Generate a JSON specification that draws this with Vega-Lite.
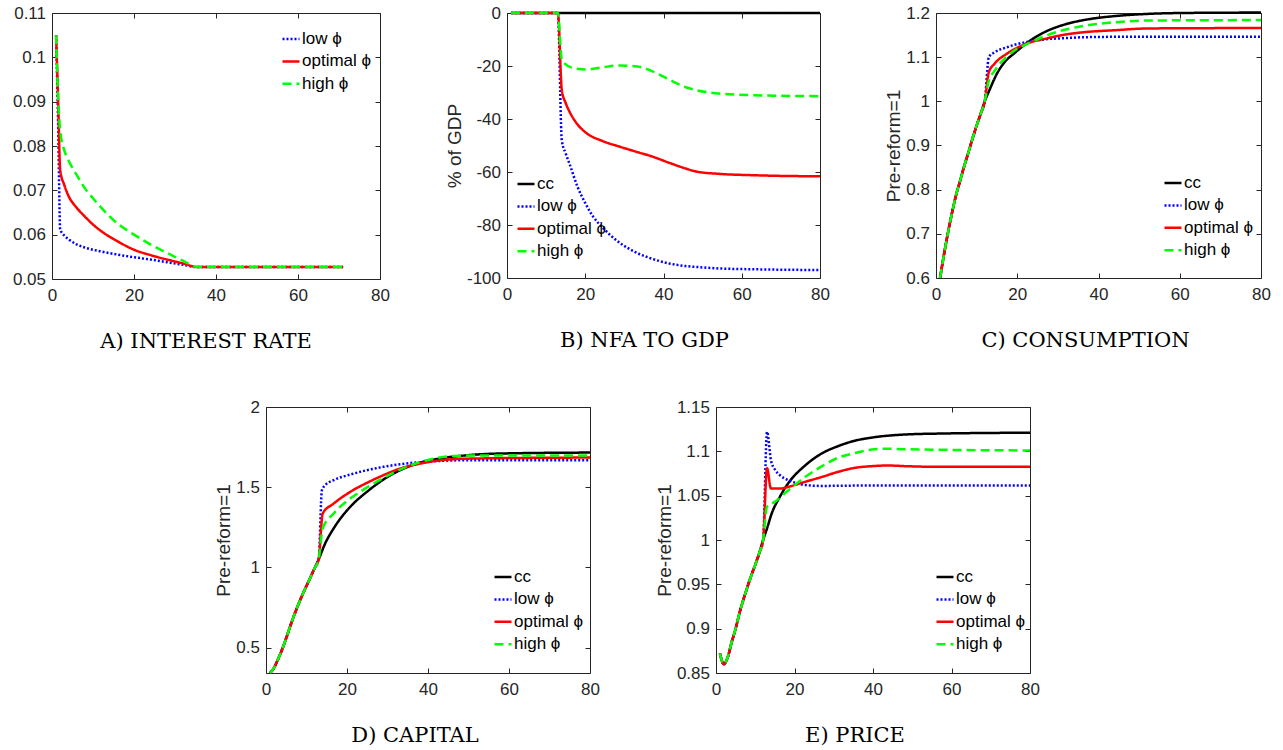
{
  "$schema": "https://vega.github.io/schema/vega-lite/v6.json",
  "background": "white",
  "padding": {"left": 11, "top": 3, "right": 5, "bottom": 5},
  "config": {
    "view": {"stroke": "#262626", "strokeWidth": 1},
    "line": {"strokeWidth": 2.5, "interpolate": "monotone"},
    "axis": {"labelFont": "Liberation Sans", "labelFontSize": 17, "labelColor": "#262626", "titleFont": "Liberation Sans", "titleFontSize": 19, "titleFontWeight": "normal", "titleColor": "#262626", "tickColor": "#262626", "tickSize": -5, "tickWidth": 1, "domain": false, "grid": false, "labelFlush": false, "labelOverlap": false, "titlePadding": 2},
    "axisX": {"labelPadding": 13.6, "format": "d"},
    "axisY": {"labelPadding": 11.5, "format": "~g"},
    "legend": {"padding": 0, "labelFont": "Liberation Sans", "labelFontSize": 17, "labelColor": "#000000", "labelOffset": 1, "rowPadding": 4.4, "symbolSize": 289, "symbolStrokeWidth": 2.5, "symbolType": "stroke", "labelLimit": 300},
    "title": {"font": "DejaVu Serif", "fontSize": 21, "fontWeight": "normal", "color": "#000000", "orient": "bottom", "anchor": "middle", "offset": 27.5}
  },
  "datasets": {
    "rate": [
      {"s":"low ϕ","t":1,"v":0.105},{"s":"low ϕ","t":1.5,"v":0.085},{"s":"low ϕ","t":2,"v":0.0612},{"s":"low ϕ","t":3,"v":0.0598},{"s":"low ϕ","t":4,"v":0.059},{"s":"low ϕ","t":6,"v":0.0578},{"s":"low ϕ","t":8,"v":0.0571},{"s":"low ϕ","t":10,"v":0.0566},{"s":"low ϕ","t":12,"v":0.0562},{"s":"low ϕ","t":16,"v":0.0555},{"s":"low ϕ","t":20,"v":0.0549},{"s":"low ϕ","t":24,"v":0.0544},{"s":"low ϕ","t":28,"v":0.0538},{"s":"low ϕ","t":32,"v":0.0532},{"s":"low ϕ","t":35.5,"v":0.0527},{"s":"low ϕ","t":71,"v":0.0527},
      {"s":"optimal ϕ","t":1,"v":0.105},{"s":"optimal ϕ","t":1.5,"v":0.09},{"s":"optimal ϕ","t":2,"v":0.0745},{"s":"optimal ϕ","t":3,"v":0.0712},{"s":"optimal ϕ","t":4,"v":0.0688},{"s":"optimal ϕ","t":6,"v":0.0661},{"s":"optimal ϕ","t":8,"v":0.0641},{"s":"optimal ϕ","t":10,"v":0.0623},{"s":"optimal ϕ","t":12,"v":0.0608},{"s":"optimal ϕ","t":16,"v":0.0585},{"s":"optimal ϕ","t":20,"v":0.0566},{"s":"optimal ϕ","t":24,"v":0.0554},{"s":"optimal ϕ","t":28,"v":0.0544},{"s":"optimal ϕ","t":32,"v":0.0535},{"s":"optimal ϕ","t":35.5,"v":0.0527},{"s":"optimal ϕ","t":71,"v":0.0527},
      {"s":"high ϕ","t":1,"v":0.105},{"s":"high ϕ","t":1.5,"v":0.091},{"s":"high ϕ","t":2,"v":0.0835},{"s":"high ϕ","t":3,"v":0.079},{"s":"high ϕ","t":4,"v":0.0768},{"s":"high ϕ","t":6,"v":0.0735},{"s":"high ϕ","t":8,"v":0.0705},{"s":"high ϕ","t":10,"v":0.0682},{"s":"high ϕ","t":12,"v":0.0661},{"s":"high ϕ","t":16,"v":0.0625},{"s":"high ϕ","t":20,"v":0.06},{"s":"high ϕ","t":24,"v":0.0578},{"s":"high ϕ","t":28,"v":0.0559},{"s":"high ϕ","t":32,"v":0.0541},{"s":"high ϕ","t":35.5,"v":0.0527},{"s":"high ϕ","t":71,"v":0.0527}
    ],
    "nfa": [
      {"s":"cc","t":1,"v":0},{"s":"cc","t":80,"v":0},
      {"s":"low ϕ","t":1,"v":0},{"s":"low ϕ","t":13,"v":0},{"s":"low ϕ","t":14,"v":-48},{"s":"low ϕ","t":15,"v":-53},{"s":"low ϕ","t":16,"v":-57},{"s":"low ϕ","t":18,"v":-65.5},{"s":"low ϕ","t":20,"v":-71.7},{"s":"low ϕ","t":22,"v":-76.8},{"s":"low ϕ","t":24.4,"v":-80.9},{"s":"low ϕ","t":28.7,"v":-86.6},{"s":"low ϕ","t":32.9,"v":-90.3},{"s":"low ϕ","t":37.2,"v":-92.8},{"s":"low ϕ","t":41.4,"v":-94.5},{"s":"low ϕ","t":45.7,"v":-95.5},{"s":"low ϕ","t":50,"v":-96},{"s":"low ϕ","t":54.2,"v":-96.4},{"s":"low ϕ","t":62.7,"v":-96.7},{"s":"low ϕ","t":80,"v":-97},
      {"s":"optimal ϕ","t":1,"v":0},{"s":"optimal ϕ","t":13,"v":0},{"s":"optimal ϕ","t":14,"v":-29},{"s":"optimal ϕ","t":15,"v":-34},{"s":"optimal ϕ","t":16,"v":-37.3},{"s":"optimal ϕ","t":18,"v":-42},{"s":"optimal ϕ","t":20.2,"v":-45.2},{"s":"optimal ϕ","t":24.4,"v":-48.3},{"s":"optimal ϕ","t":28.7,"v":-50.4},{"s":"optimal ϕ","t":32.9,"v":-52.3},{"s":"optimal ϕ","t":37.2,"v":-54.2},{"s":"optimal ϕ","t":41.4,"v":-56.5},{"s":"optimal ϕ","t":45.7,"v":-58.7},{"s":"optimal ϕ","t":48.3,"v":-59.8},{"s":"optimal ϕ","t":54.2,"v":-60.7},{"s":"optimal ϕ","t":62.7,"v":-61.2},{"s":"optimal ϕ","t":71.2,"v":-61.5},{"s":"optimal ϕ","t":80,"v":-61.6},
      {"s":"high ϕ","t":1,"v":0},{"s":"high ϕ","t":13,"v":0},{"s":"high ϕ","t":14,"v":-17.5},{"s":"high ϕ","t":15,"v":-19.4},{"s":"high ϕ","t":16.8,"v":-20.7},{"s":"high ϕ","t":20.2,"v":-21.3},{"s":"high ϕ","t":24.4,"v":-20.5},{"s":"high ϕ","t":28.7,"v":-19.8},{"s":"high ϕ","t":32.9,"v":-20.1},{"s":"high ϕ","t":37.2,"v":-22},{"s":"high ϕ","t":41.4,"v":-25.1},{"s":"high ϕ","t":45.7,"v":-28},{"s":"high ϕ","t":48.3,"v":-29.1},{"s":"high ϕ","t":54.2,"v":-30.4},{"s":"high ϕ","t":62.7,"v":-31},{"s":"high ϕ","t":80,"v":-31.4}
    ],
    "cons": [
      {"s":"cc","t":1,"v":0.6},{"s":"cc","t":2,"v":0.655},{"s":"cc","t":3,"v":0.705},{"s":"cc","t":4,"v":0.75},{"s":"cc","t":5,"v":0.79},{"s":"cc","t":6,"v":0.822},{"s":"cc","t":7,"v":0.855},{"s":"cc","t":8,"v":0.885},{"s":"cc","t":9,"v":0.916},{"s":"cc","t":10,"v":0.945},{"s":"cc","t":11,"v":0.972},{"s":"cc","t":12,"v":1.0},{"s":"cc","t":13,"v":1.022},{"s":"cc","t":15.2,"v":1.066},{"s":"cc","t":17,"v":1.09},{"s":"cc","t":19.3,"v":1.109},{"s":"cc","t":23.4,"v":1.139},{"s":"cc","t":27.5,"v":1.16},{"s":"cc","t":31.7,"v":1.174},{"s":"cc","t":35.8,"v":1.183},{"s":"cc","t":39.9,"v":1.189},{"s":"cc","t":44,"v":1.193},{"s":"cc","t":52.2,"v":1.198},{"s":"cc","t":60.4,"v":1.2},{"s":"cc","t":80,"v":1.201},
      {"s":"low ϕ","t":1,"v":0.6},{"s":"low ϕ","t":2,"v":0.655},{"s":"low ϕ","t":3,"v":0.705},{"s":"low ϕ","t":4,"v":0.75},{"s":"low ϕ","t":5,"v":0.79},{"s":"low ϕ","t":6,"v":0.822},{"s":"low ϕ","t":7,"v":0.855},{"s":"low ϕ","t":8,"v":0.885},{"s":"low ϕ","t":9,"v":0.916},{"s":"low ϕ","t":10,"v":0.945},{"s":"low ϕ","t":11,"v":0.972},{"s":"low ϕ","t":12,"v":1.0},{"s":"low ϕ","t":13,"v":1.1},{"s":"low ϕ","t":14.4,"v":1.111},{"s":"low ϕ","t":17.3,"v":1.122},{"s":"low ϕ","t":19.3,"v":1.128},{"s":"low ϕ","t":23.4,"v":1.136},{"s":"low ϕ","t":27.5,"v":1.141},{"s":"low ϕ","t":31.7,"v":1.143},{"s":"low ϕ","t":35.8,"v":1.145},{"s":"low ϕ","t":44,"v":1.146},{"s":"low ϕ","t":80,"v":1.146},
      {"s":"optimal ϕ","t":1,"v":0.6},{"s":"optimal ϕ","t":2,"v":0.655},{"s":"optimal ϕ","t":3,"v":0.705},{"s":"optimal ϕ","t":4,"v":0.75},{"s":"optimal ϕ","t":5,"v":0.79},{"s":"optimal ϕ","t":6,"v":0.822},{"s":"optimal ϕ","t":7,"v":0.855},{"s":"optimal ϕ","t":8,"v":0.885},{"s":"optimal ϕ","t":9,"v":0.916},{"s":"optimal ϕ","t":10,"v":0.945},{"s":"optimal ϕ","t":11,"v":0.972},{"s":"optimal ϕ","t":12,"v":1.0},{"s":"optimal ϕ","t":13,"v":1.066},{"s":"optimal ϕ","t":14.4,"v":1.085},{"s":"optimal ϕ","t":17.3,"v":1.107},{"s":"optimal ϕ","t":19.3,"v":1.118},{"s":"optimal ϕ","t":23.4,"v":1.134},{"s":"optimal ϕ","t":27.5,"v":1.143},{"s":"optimal ϕ","t":31.7,"v":1.151},{"s":"optimal ϕ","t":35.8,"v":1.156},{"s":"optimal ϕ","t":44,"v":1.161},{"s":"optimal ϕ","t":52.2,"v":1.165},{"s":"optimal ϕ","t":80,"v":1.166},
      {"s":"high ϕ","t":1,"v":0.6},{"s":"high ϕ","t":2,"v":0.655},{"s":"high ϕ","t":3,"v":0.705},{"s":"high ϕ","t":4,"v":0.75},{"s":"high ϕ","t":5,"v":0.79},{"s":"high ϕ","t":6,"v":0.822},{"s":"high ϕ","t":7,"v":0.855},{"s":"high ϕ","t":8,"v":0.885},{"s":"high ϕ","t":9,"v":0.916},{"s":"high ϕ","t":10,"v":0.945},{"s":"high ϕ","t":11,"v":0.972},{"s":"high ϕ","t":12,"v":1.0},{"s":"high ϕ","t":13,"v":1.047},{"s":"high ϕ","t":14.4,"v":1.069},{"s":"high ϕ","t":17.3,"v":1.1},{"s":"high ϕ","t":19.3,"v":1.115},{"s":"high ϕ","t":23.4,"v":1.134},{"s":"high ϕ","t":27.5,"v":1.15},{"s":"high ϕ","t":31.7,"v":1.162},{"s":"high ϕ","t":35.8,"v":1.17},{"s":"high ϕ","t":44,"v":1.179},{"s":"high ϕ","t":52.2,"v":1.183},{"s":"high ϕ","t":80,"v":1.184}
    ],
    "cap": [
      {"s":"cc","t":1,"v":0.342},{"s":"cc","t":2,"v":0.375},{"s":"cc","t":3,"v":0.43},{"s":"cc","t":4,"v":0.49},{"s":"cc","t":5,"v":0.56},{"s":"cc","t":6,"v":0.635},{"s":"cc","t":7,"v":0.705},{"s":"cc","t":8,"v":0.77},{"s":"cc","t":9,"v":0.83},{"s":"cc","t":10,"v":0.885},{"s":"cc","t":11,"v":0.94},{"s":"cc","t":12,"v":0.995},{"s":"cc","t":13,"v":1.05},{"s":"cc","t":14.6,"v":1.149},{"s":"cc","t":16.7,"v":1.243},{"s":"cc","t":20.8,"v":1.378},{"s":"cc","t":24.9,"v":1.471},{"s":"cc","t":29,"v":1.548},{"s":"cc","t":33.1,"v":1.606},{"s":"cc","t":37.3,"v":1.647},{"s":"cc","t":41.4,"v":1.672},{"s":"cc","t":49.6,"v":1.699},{"s":"cc","t":57.8,"v":1.71},{"s":"cc","t":80,"v":1.716},
      {"s":"low ϕ","t":1,"v":0.342},{"s":"low ϕ","t":2,"v":0.375},{"s":"low ϕ","t":3,"v":0.43},{"s":"low ϕ","t":4,"v":0.49},{"s":"low ϕ","t":5,"v":0.56},{"s":"low ϕ","t":6,"v":0.635},{"s":"low ϕ","t":7,"v":0.705},{"s":"low ϕ","t":8,"v":0.77},{"s":"low ϕ","t":9,"v":0.83},{"s":"low ϕ","t":10,"v":0.885},{"s":"low ϕ","t":11,"v":0.94},{"s":"low ϕ","t":12,"v":0.995},{"s":"low ϕ","t":13,"v":1.05},{"s":"low ϕ","t":13.8,"v":1.481},{"s":"low ϕ","t":14.6,"v":1.512},{"s":"low ϕ","t":16.7,"v":1.544},{"s":"low ϕ","t":20.8,"v":1.579},{"s":"low ϕ","t":24.9,"v":1.606},{"s":"low ϕ","t":29,"v":1.627},{"s":"low ϕ","t":33.1,"v":1.643},{"s":"low ϕ","t":41.4,"v":1.662},{"s":"low ϕ","t":49.6,"v":1.668},{"s":"low ϕ","t":80,"v":1.668},
      {"s":"optimal ϕ","t":1,"v":0.342},{"s":"optimal ϕ","t":2,"v":0.375},{"s":"optimal ϕ","t":3,"v":0.43},{"s":"optimal ϕ","t":4,"v":0.49},{"s":"optimal ϕ","t":5,"v":0.56},{"s":"optimal ϕ","t":6,"v":0.635},{"s":"optimal ϕ","t":7,"v":0.705},{"s":"optimal ϕ","t":8,"v":0.77},{"s":"optimal ϕ","t":9,"v":0.83},{"s":"optimal ϕ","t":10,"v":0.885},{"s":"optimal ϕ","t":11,"v":0.94},{"s":"optimal ϕ","t":12,"v":0.995},{"s":"optimal ϕ","t":13,"v":1.05},{"s":"optimal ϕ","t":14,"v":1.336},{"s":"optimal ϕ","t":16.7,"v":1.398},{"s":"optimal ϕ","t":20.8,"v":1.471},{"s":"optimal ϕ","t":24.9,"v":1.527},{"s":"optimal ϕ","t":29,"v":1.575},{"s":"optimal ϕ","t":33.1,"v":1.616},{"s":"optimal ϕ","t":37.3,"v":1.643},{"s":"optimal ϕ","t":41.4,"v":1.662},{"s":"optimal ϕ","t":49.6,"v":1.678},{"s":"optimal ϕ","t":80,"v":1.685},
      {"s":"high ϕ","t":1,"v":0.342},{"s":"high ϕ","t":2,"v":0.375},{"s":"high ϕ","t":3,"v":0.43},{"s":"high ϕ","t":4,"v":0.49},{"s":"high ϕ","t":5,"v":0.56},{"s":"high ϕ","t":6,"v":0.635},{"s":"high ϕ","t":7,"v":0.705},{"s":"high ϕ","t":8,"v":0.77},{"s":"high ϕ","t":9,"v":0.83},{"s":"high ϕ","t":10,"v":0.885},{"s":"high ϕ","t":11,"v":0.94},{"s":"high ϕ","t":12,"v":0.995},{"s":"high ϕ","t":13,"v":1.05},{"s":"high ϕ","t":14,"v":1.243},{"s":"high ϕ","t":16.7,"v":1.336},{"s":"high ϕ","t":20.8,"v":1.429},{"s":"high ϕ","t":24.9,"v":1.498},{"s":"high ϕ","t":29,"v":1.558},{"s":"high ϕ","t":33.1,"v":1.61},{"s":"high ϕ","t":37.3,"v":1.651},{"s":"high ϕ","t":41.4,"v":1.678},{"s":"high ϕ","t":45.5,"v":1.693},{"s":"high ϕ","t":49.6,"v":1.697},{"s":"high ϕ","t":80,"v":1.697}
    ],
    "price": [
      {"s":"cc","t":1,"v":0.872},{"s":"cc","t":2,"v":0.86},{"s":"cc","t":3,"v":0.868},{"s":"cc","t":4,"v":0.885},{"s":"cc","t":5,"v":0.9},{"s":"cc","t":6,"v":0.918},{"s":"cc","t":7,"v":0.933},{"s":"cc","t":8,"v":0.947},{"s":"cc","t":9,"v":0.96},{"s":"cc","t":10,"v":0.972},{"s":"cc","t":11,"v":0.985},{"s":"cc","t":12,"v":1.0},{"s":"cc","t":13,"v":1.013},{"s":"cc","t":14.2,"v":1.03},{"s":"cc","t":16.3,"v":1.049},{"s":"cc","t":18.4,"v":1.064},{"s":"cc","t":22.7,"v":1.084},{"s":"cc","t":26.9,"v":1.0975},{"s":"cc","t":31.2,"v":1.106},{"s":"cc","t":35.4,"v":1.112},{"s":"cc","t":39.7,"v":1.1155},{"s":"cc","t":48.2,"v":1.119},{"s":"cc","t":56.6,"v":1.12},{"s":"cc","t":80,"v":1.121},
      {"s":"low ϕ","t":1,"v":0.872},{"s":"low ϕ","t":2,"v":0.86},{"s":"low ϕ","t":3,"v":0.868},{"s":"low ϕ","t":4,"v":0.885},{"s":"low ϕ","t":5,"v":0.9},{"s":"low ϕ","t":6,"v":0.918},{"s":"low ϕ","t":7,"v":0.933},{"s":"low ϕ","t":8,"v":0.947},{"s":"low ϕ","t":9,"v":0.96},{"s":"low ϕ","t":10,"v":0.972},{"s":"low ϕ","t":11,"v":0.985},{"s":"low ϕ","t":12,"v":1.0},{"s":"low ϕ","t":13,"v":1.122},{"s":"low ϕ","t":14,"v":1.09},{"s":"low ϕ","t":15,"v":1.0795},{"s":"low ϕ","t":16.3,"v":1.073},{"s":"low ϕ","t":18.4,"v":1.0675},{"s":"low ϕ","t":20.6,"v":1.064},{"s":"low ϕ","t":22.7,"v":1.062},{"s":"low ϕ","t":26.9,"v":1.061},{"s":"low ϕ","t":39.7,"v":1.0615},{"s":"low ϕ","t":80,"v":1.0615},
      {"s":"optimal ϕ","t":1,"v":0.872},{"s":"optimal ϕ","t":2,"v":0.86},{"s":"optimal ϕ","t":3,"v":0.868},{"s":"optimal ϕ","t":4,"v":0.885},{"s":"optimal ϕ","t":5,"v":0.9},{"s":"optimal ϕ","t":6,"v":0.918},{"s":"optimal ϕ","t":7,"v":0.933},{"s":"optimal ϕ","t":8,"v":0.947},{"s":"optimal ϕ","t":9,"v":0.96},{"s":"optimal ϕ","t":10,"v":0.972},{"s":"optimal ϕ","t":11,"v":0.985},{"s":"optimal ϕ","t":12,"v":1.0},{"s":"optimal ϕ","t":13,"v":1.081},{"s":"optimal ϕ","t":14,"v":1.058},{"s":"optimal ϕ","t":16.3,"v":1.058},{"s":"optimal ϕ","t":18.4,"v":1.06},{"s":"optimal ϕ","t":22.7,"v":1.0656},{"s":"optimal ϕ","t":26.9,"v":1.071},{"s":"optimal ϕ","t":31.2,"v":1.077},{"s":"optimal ϕ","t":35.4,"v":1.0814},{"s":"optimal ϕ","t":39.7,"v":1.0833},{"s":"optimal ϕ","t":43.9,"v":1.084},{"s":"optimal ϕ","t":48.2,"v":1.0833},{"s":"optimal ϕ","t":56.6,"v":1.0825},{"s":"optimal ϕ","t":80,"v":1.0825},
      {"s":"high ϕ","t":1,"v":0.872},{"s":"high ϕ","t":2,"v":0.86},{"s":"high ϕ","t":3,"v":0.868},{"s":"high ϕ","t":4,"v":0.885},{"s":"high ϕ","t":5,"v":0.9},{"s":"high ϕ","t":6,"v":0.918},{"s":"high ϕ","t":7,"v":0.933},{"s":"high ϕ","t":8,"v":0.947},{"s":"high ϕ","t":9,"v":0.96},{"s":"high ϕ","t":10,"v":0.972},{"s":"high ϕ","t":11,"v":0.985},{"s":"high ϕ","t":12,"v":1.0},{"s":"high ϕ","t":13,"v":1.0375},{"s":"high ϕ","t":15,"v":1.043},{"s":"high ϕ","t":18.4,"v":1.056},{"s":"high ϕ","t":22.7,"v":1.071},{"s":"high ϕ","t":26.9,"v":1.083},{"s":"high ϕ","t":31.2,"v":1.093},{"s":"high ϕ","t":35.4,"v":1.098},{"s":"high ϕ","t":39.7,"v":1.102},{"s":"high ϕ","t":43.9,"v":1.103},{"s":"high ϕ","t":48.2,"v":1.1024},{"s":"high ϕ","t":80,"v":1.101}
    ]
  },
  "spacing": 44,
  "resolve": {"scale": {"color": "independent", "strokeDash": "independent"}, "legend": {"color": "independent", "strokeDash": "independent"}},
  "vconcat": [
    {
      "spacing": 54,
      "resolve": {"scale": {"color": "independent", "strokeDash": "independent"}, "legend": {"color": "independent", "strokeDash": "independent"}},
      "hconcat": [
        {
          "width": 328, "height": 266,
          "data": {"name": "rate"},
          "title": {"text": "A) INTEREST RATE", "orient": "bottom", "dx": -10},
          "resolve": {"axis": {"x": "independent", "y": "independent"}},
          "layer": [
            {
              "mark": {"type": "line"},
              "encoding": {
                "x": {"field": "t", "type": "quantitative", "scale": {"domain": [0, 80], "nice": false}, "axis": {"values": [0, 20, 40, 60, 80], "title": null}},
                "y": {"field": "v", "type": "quantitative", "scale": {"domain": [0.05, 0.11], "nice": false, "zero": false}, "axis": {"values": [0.05, 0.06, 0.07, 0.08, 0.09, 0.1, 0.11], "title": null}},
                "color": {"field": "s", "type": "nominal", "scale": {"domain": ["low ϕ", "optimal ϕ", "high ϕ"], "range": ["#0000ff", "#ff0000", "#00ff00"]}, "legend": {"title": null, "orient": "none", "legendX": 229, "legendY": 16}},
                "strokeDash": {"field": "s", "type": "nominal", "scale": {"domain": ["low ϕ", "optimal ϕ", "high ϕ"], "range": [[2, 2], [1, 0], [9, 5]]}, "legend": {"title": null, "orient": "none", "legendX": 229, "legendY": 16}}
              }
            },
            {
              "mark": {"type": "point", "opacity": 0},
              "encoding": {
                "x": {"field": "t", "type": "quantitative", "scale": {"domain": [0, 80], "nice": false}, "axis": {"orient": "top", "labels": false, "values": [0, 20, 40, 60, 80], "title": null}},
                "y": {"field": "v", "type": "quantitative", "scale": {"domain": [0.05, 0.11], "nice": false, "zero": false}, "axis": {"orient": "right", "labels": false, "values": [0.05, 0.06, 0.07, 0.08, 0.09, 0.1, 0.11], "title": null}}
              }
            }
          ]
        },
        {
          "width": 313, "height": 265,
          "data": {"name": "nfa"},
          "title": {"text": "B) NFA TO GDP", "orient": "bottom", "dx": -19},
          "resolve": {"axis": {"x": "independent", "y": "independent"}},
          "layer": [
            {
              "mark": {"type": "line"},
              "encoding": {
                "x": {"field": "t", "type": "quantitative", "scale": {"domain": [0, 80], "nice": false}, "axis": {"values": [0, 20, 40, 60, 80], "title": null}},
                "y": {"field": "v", "type": "quantitative", "scale": {"domain": [-100, 0], "nice": false}, "axis": {"values": [-100, -80, -60, -40, -20, 0], "title": "% of GDP", "labelExpr": "datum.value < 0 ? '-' + (-datum.value) : '' + datum.value"}},
                "color": {"field": "s", "type": "nominal", "scale": {"domain": ["cc", "low ϕ", "optimal ϕ", "high ϕ"], "range": ["#000000", "#0000ff", "#ff0000", "#00ff00"]}, "legend": {"title": null, "orient": "none", "legendX": 9, "legendY": 161}},
                "strokeDash": {"field": "s", "type": "nominal", "scale": {"domain": ["cc", "low ϕ", "optimal ϕ", "high ϕ"], "range": [[1, 0], [2, 2], [1, 0], [9, 5]]}, "legend": {"title": null, "orient": "none", "legendX": 9, "legendY": 161}}
              }
            },
            {
              "mark": {"type": "point", "opacity": 0},
              "encoding": {
                "x": {"field": "t", "type": "quantitative", "scale": {"domain": [0, 80], "nice": false}, "axis": {"orient": "top", "labels": false, "values": [0, 20, 40, 60, 80], "title": null}},
                "y": {"field": "v", "type": "quantitative", "scale": {"domain": [-100, 0], "nice": false}, "axis": {"orient": "right", "labels": false, "values": [-100, -80, -60, -40, -20, 0], "title": null}}
              }
            }
          ]
        },
        {
          "width": 325, "height": 265,
          "data": {"name": "cons"},
          "title": {"text": "C) CONSUMPTION", "orient": "bottom", "dx": -13},
          "resolve": {"axis": {"x": "independent", "y": "independent"}},
          "layer": [
            {
              "mark": {"type": "line"},
              "encoding": {
                "x": {"field": "t", "type": "quantitative", "scale": {"domain": [0, 80], "nice": false}, "axis": {"values": [0, 20, 40, 60, 80], "title": null}},
                "y": {"field": "v", "type": "quantitative", "scale": {"domain": [0.6, 1.2], "nice": false, "zero": false}, "axis": {"values": [0.6, 0.7, 0.8, 0.9, 1, 1.1, 1.2], "title": "Pre-reform=1"}},
                "color": {"field": "s", "type": "nominal", "scale": {"domain": ["cc", "low ϕ", "optimal ϕ", "high ϕ"], "range": ["#000000", "#0000ff", "#ff0000", "#00ff00"]}, "legend": {"title": null, "orient": "none", "legendX": 227, "legendY": 160}},
                "strokeDash": {"field": "s", "type": "nominal", "scale": {"domain": ["cc", "low ϕ", "optimal ϕ", "high ϕ"], "range": [[1, 0], [2, 2], [1, 0], [9, 5]]}, "legend": {"title": null, "orient": "none", "legendX": 227, "legendY": 160}}
              }
            },
            {
              "mark": {"type": "point", "opacity": 0},
              "encoding": {
                "x": {"field": "t", "type": "quantitative", "scale": {"domain": [0, 80], "nice": false}, "axis": {"orient": "top", "labels": false, "values": [0, 20, 40, 60, 80], "title": null}},
                "y": {"field": "v", "type": "quantitative", "scale": {"domain": [0.6, 1.2], "nice": false, "zero": false}, "axis": {"orient": "right", "labels": false, "values": [0.6, 0.7, 0.8, 0.9, 1, 1.1, 1.2], "title": null}}
              }
            }
          ]
        }
      ]
    },
    {
      "spacing": 54,
      "resolve": {"scale": {"color": "independent", "strokeDash": "independent"}, "legend": {"color": "independent", "strokeDash": "independent"}},
      "hconcat": [
        {
          "width": 108, "height": 10,
          "data": {"values": [{}]},
          "view": {"stroke": null},
          "mark": {"type": "point", "opacity": 0}
        },
        {
          "width": 324, "height": 266,
          "data": {"name": "cap"},
          "title": {"text": "D) CAPITAL", "orient": "bottom", "dx": -13},
          "resolve": {"axis": {"x": "independent", "y": "independent"}},
          "layer": [
            {
              "mark": {"type": "line"},
              "encoding": {
                "x": {"field": "t", "type": "quantitative", "scale": {"domain": [0, 80], "nice": false}, "axis": {"values": [0, 20, 40, 60, 80], "title": null}},
                "y": {"field": "v", "type": "quantitative", "scale": {"domain": [0.342, 2], "nice": false, "zero": false}, "axis": {"values": [0.5, 1, 1.5, 2], "title": "Pre-reform=1"}},
                "color": {"field": "s", "type": "nominal", "scale": {"domain": ["cc", "low ϕ", "optimal ϕ", "high ϕ"], "range": ["#000000", "#0000ff", "#ff0000", "#00ff00"]}, "legend": {"title": null, "orient": "none", "legendX": 227, "legendY": 160}},
                "strokeDash": {"field": "s", "type": "nominal", "scale": {"domain": ["cc", "low ϕ", "optimal ϕ", "high ϕ"], "range": [[1, 0], [2, 2], [1, 0], [9, 5]]}, "legend": {"title": null, "orient": "none", "legendX": 227, "legendY": 160}}
              }
            },
            {
              "mark": {"type": "point", "opacity": 0},
              "encoding": {
                "x": {"field": "t", "type": "quantitative", "scale": {"domain": [0, 80], "nice": false}, "axis": {"orient": "top", "labels": false, "values": [0, 20, 40, 60, 80], "title": null}},
                "y": {"field": "v", "type": "quantitative", "scale": {"domain": [0.342, 2], "nice": false, "zero": false}, "axis": {"orient": "right", "labels": false, "values": [0.5, 1, 1.5, 2], "title": null}}
              }
            }
          ]
        },
        {
          "width": 314, "height": 266,
          "data": {"name": "price"},
          "title": {"text": "E) PRICE", "orient": "bottom", "dx": -18},
          "resolve": {"axis": {"x": "independent", "y": "independent"}},
          "layer": [
            {
              "mark": {"type": "line"},
              "encoding": {
                "x": {"field": "t", "type": "quantitative", "scale": {"domain": [0, 80], "nice": false}, "axis": {"values": [0, 20, 40, 60, 80], "title": null}},
                "y": {"field": "v", "type": "quantitative", "scale": {"domain": [0.85, 1.15], "nice": false, "zero": false}, "axis": {"values": [0.85, 0.9, 0.95, 1, 1.05, 1.1, 1.15], "title": "Pre-reform=1"}},
                "color": {"field": "s", "type": "nominal", "scale": {"domain": ["cc", "low ϕ", "optimal ϕ", "high ϕ"], "range": ["#000000", "#0000ff", "#ff0000", "#00ff00"]}, "legend": {"title": null, "orient": "none", "legendX": 219, "legendY": 160}},
                "strokeDash": {"field": "s", "type": "nominal", "scale": {"domain": ["cc", "low ϕ", "optimal ϕ", "high ϕ"], "range": [[1, 0], [2, 2], [1, 0], [9, 5]]}, "legend": {"title": null, "orient": "none", "legendX": 219, "legendY": 160}}
              }
            },
            {
              "mark": {"type": "point", "opacity": 0},
              "encoding": {
                "x": {"field": "t", "type": "quantitative", "scale": {"domain": [0, 80], "nice": false}, "axis": {"orient": "top", "labels": false, "values": [0, 20, 40, 60, 80], "title": null}},
                "y": {"field": "v", "type": "quantitative", "scale": {"domain": [0.85, 1.15], "nice": false, "zero": false}, "axis": {"orient": "right", "labels": false, "values": [0.85, 0.9, 0.95, 1, 1.05, 1.1, 1.15], "title": null}}
              }
            }
          ]
        }
      ]
    }
  ]
}
